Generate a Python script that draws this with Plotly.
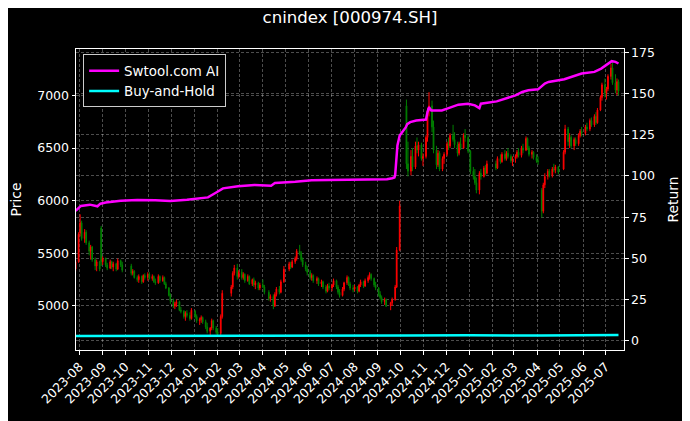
import pandas as pd
import plotly.graph_objects as go

# ---------------- data ----------------
holidays = ['2023-09-29', '2023-10-02', '2023-10-03', '2023-10-04', '2023-10-05', '2023-10-06',
            '2024-01-01', '2024-02-09', '2024-02-12', '2024-02-13', '2024-02-14', '2024-02-15',
            '2024-02-16', '2024-04-04', '2024-04-05', '2024-05-01', '2024-05-02', '2024-05-03',
            '2024-06-10', '2024-09-16', '2024-09-17', '2024-10-01', '2024-10-02', '2024-10-03',
            '2024-10-04', '2024-10-07', '2025-01-01', '2025-01-28', '2025-01-29', '2025-01-30',
            '2025-01-31', '2025-02-03', '2025-02-04', '2025-04-04', '2025-05-01', '2025-05-02',
            '2025-05-05', '2025-06-02']
first_day = '2023-07-27'
last_day = '2025-07-18'

opens = [5350, 5420, 5690, 5790, 5640, 5700, 5600, 5520, 5560, 5440, 5380, 5420, 5740,
         5420, 5450, 5390, 5360, 5420, 5370, 5400, 5350, 5430, 5390,
         5380, 5310, 5330, 5270, 5250, 5280, 5230, 5290, 5270,
         5300, 5260, 5280, 5230, 5220, 5280, 5240, 5270, 5210, 5170, 5100,
         5050, 5000, 5020, 5040, 4960, 4950, 4900, 4930, 4910, 4880,
         4950, 4900, 4860, 4870, 4890, 4850, 4800, 4760, 4790, 4860, 4790,
         4750, 4740, 4900, 5120, 5180, 5310, 5360, 5280,
         5320, 5270, 5300, 5240, 5280, 5210, 5250, 5200, 5220, 5170,
         5200, 5180, 5130, 5070, 5090, 5000, 5110, 5160, 5130, 5230,
         5350, 5400, 5370, 5420, 5450, 5520, 5500, 5440, 5390, 5350,
         5320, 5270, 5290, 5240, 5260, 5210, 5230, 5180, 5140, 5190,
         5170, 5200, 5240, 5180, 5130, 5100, 5160, 5220, 5270, 5210, 5170,
         5160, 5180, 5140, 5200, 5230, 5190, 5240, 5270, 5300, 5260, 5200,
         5170, 5110, 5080, 5040, 5060, 5000, 5030, 5060, 5180, 5530,
         6900, 6350, 6280, 6420, 6320, 6520, 6480, 6530, 6400,
         6420, 6600, 6850, 6900, 6700, 6480, 6340, 6450, 6300, 6400,
         6440, 6540, 6520, 6620, 6580, 6530, 6450, 6540, 6500, 6620, 6600,
         6470, 6280, 6230, 6170, 6100, 6260, 6230, 6310, 6260,
         6350, 6310, 6400, 6370, 6440, 6400, 6450, 6420, 6380,
         6400, 6420, 6460, 6430, 6500, 6480, 6590, 6500, 6440, 6460, 6410,
         6380, 6100, 5900, 6150, 6230, 6280, 6240, 6300, 6290, 6320,
         6300, 6460, 6680, 6560, 6600, 6520, 6580, 6540, 6620, 6660,
         6640, 6700, 6680, 6760, 6720, 6800, 6740, 6860, 6980, 7100,
         7020, 7060, 7180, 7260, 7120, 7050, 7130]
highs = [5440, 5700, 5870, 5810, 5730, 5720, 5620, 5580, 5570, 5460, 5440, 5430, 5760,
         5470, 5460, 5410, 5440, 5430, 5420, 5410, 5450, 5440, 5420,
         5400, 5350, 5340, 5290, 5300, 5290, 5300, 5310, 5320,
         5320, 5300, 5290, 5260, 5300, 5290, 5290, 5280, 5230, 5180, 5120,
         5070, 5040, 5060, 5050, 4990, 4960, 4950, 4960, 4940, 4980,
         4960, 4920, 4890, 4910, 4900, 4870, 4840, 4800, 4880, 4870, 4810,
         4790, 4920, 5150, 5200, 5330, 5390, 5400, 5340,
         5350, 5320, 5310, 5300, 5290, 5260, 5270, 5240, 5230, 5220,
         5250, 5200, 5150, 5110, 5110, 5130, 5180, 5190, 5250, 5380,
         5420, 5420, 5440, 5470, 5540, 5580, 5520, 5460, 5420, 5380,
         5340, 5310, 5300, 5280, 5270, 5250, 5240, 5200, 5210, 5220,
         5210, 5260, 5250, 5200, 5160, 5180, 5230, 5290, 5280, 5230, 5200,
         5200, 5190, 5210, 5250, 5240, 5260, 5290, 5320, 5310, 5270, 5230,
         5180, 5140, 5100, 5080, 5070, 5040, 5080, 5200, 5560, 6000,
         6960, 6560, 6480, 6500, 6560, 6600, 6560, 6550, 6450,
         6620, 6880, 7030, 6950, 6760, 6520, 6480, 6470, 6420, 6460,
         6560, 6600, 6640, 6720, 6650, 6560, 6560, 6600, 6640, 6680, 6620,
         6480, 6320, 6300, 6220, 6280, 6300, 6330, 6340, 6380,
         6380, 6420, 6440, 6460, 6480, 6470, 6500, 6440, 6420,
         6440, 6480, 6500, 6520, 6540, 6610, 6600, 6520, 6480, 6470, 6440,
         6420, 6120, 6170, 6260, 6300, 6300, 6320, 6350, 6340, 6330,
         6480, 6720, 6700, 6640, 6620, 6600, 6600, 6640, 6680, 6700,
         6720, 6740, 6780, 6790, 6820, 6840, 6880, 7000, 7120, 7160,
         7080, 7200, 7300, 7310, 7200, 7160, 7150]
lows = [5330, 5410, 5660, 5620, 5600, 5580, 5480, 5440, 5420, 5340, 5330, 5330, 5380,
        5390, 5370, 5340, 5350, 5350, 5330, 5330, 5340, 5370, 5320,
        5290, 5290, 5260, 5230, 5220, 5210, 5220, 5250, 5240,
        5250, 5240, 5220, 5200, 5210, 5220, 5230, 5200, 5160, 5090, 5020,
        4980, 4970, 4990, 4950, 4930, 4880, 4860, 4890, 4860, 4870,
        4880, 4840, 4820, 4840, 4830, 4780, 4740, 4715, 4770, 4770, 4730,
        4720, 4715, 4880, 5090, 5160, 5290, 5250, 5260,
        5250, 5250, 5220, 5230, 5200, 5190, 5180, 5160, 5150, 5150,
        5170, 5110, 5050, 5040, 4970, 4990, 5090, 5110, 5120, 5220,
        5330, 5350, 5360, 5400, 5430, 5480, 5420, 5370, 5330, 5290,
        5250, 5240, 5220, 5210, 5190, 5180, 5160, 5120, 5130, 5150,
        5140, 5180, 5160, 5110, 5080, 5090, 5140, 5200, 5190, 5150, 5130,
        5140, 5120, 5130, 5180, 5170, 5180, 5220, 5250, 5240, 5180, 5150,
        5090, 5060, 5020, 5010, 4990, 4960, 5000, 5050, 5170, 5520,
        6300, 6230, 6240, 6280, 6300, 6450, 6420, 6380, 6330,
        6400, 6560, 6800, 6650, 6450, 6300, 6320, 6280, 6280, 6350,
        6420, 6480, 6500, 6560, 6500, 6420, 6430, 6480, 6490, 6560, 6450,
        6250, 6200, 6150, 6070, 6060, 6200, 6220, 6240, 6250,
        6290, 6300, 6350, 6360, 6380, 6380, 6400, 6360, 6330,
        6360, 6400, 6410, 6410, 6450, 6470, 6480, 6420, 6400, 6390, 6360,
        6340, 5840, 5880, 6120, 6200, 6220, 6220, 6270, 6260, 6250,
        6290, 6440, 6520, 6500, 6500, 6480, 6520, 6520, 6600, 6610,
        6620, 6660, 6660, 6700, 6700, 6720, 6730, 6850, 6950, 6980,
        6960, 7040, 7150, 7100, 7020, 7000, 7000]
closes = [5420, 5680, 5790, 5640, 5700, 5600, 5520, 5560, 5440, 5380, 5420, 5350, 5420,
          5450, 5390, 5360, 5420, 5370, 5400, 5350, 5430, 5390, 5340,
          5310, 5330, 5270, 5250, 5280, 5230, 5290, 5270, 5300,
          5260, 5280, 5230, 5220, 5280, 5240, 5270, 5210, 5170, 5100, 5050,
          5000, 5020, 5040, 4960, 4950, 4900, 4930, 4910, 4880, 4960,
          4900, 4860, 4870, 4890, 4850, 4800, 4760, 4790, 4860, 4790, 4750,
          4740, 4900, 5120, 5180, 5310, 5360, 5280, 5320,
          5270, 5300, 5240, 5280, 5210, 5250, 5200, 5220, 5170, 5200,
          5180, 5130, 5070, 5090, 5000, 5110, 5160, 5130, 5230, 5350,
          5400, 5370, 5420, 5450, 5520, 5500, 5440, 5390, 5350, 5320,
          5270, 5290, 5240, 5260, 5210, 5230, 5180, 5140, 5190, 5170,
          5200, 5240, 5180, 5130, 5100, 5160, 5220, 5270, 5210, 5170, 5160,
          5180, 5140, 5200, 5230, 5190, 5240, 5270, 5300, 5260, 5200, 5170,
          5110, 5080, 5040, 5060, 5000, 5030, 5060, 5180, 5530, 5950,
          6350, 6280, 6420, 6320, 6520, 6480, 6530, 6400, 6420,
          6600, 6850, 6900, 6700, 6480, 6340, 6450, 6300, 6400, 6440,
          6540, 6520, 6620, 6580, 6530, 6450, 6540, 6500, 6620, 6600, 6470,
          6280, 6230, 6170, 6100, 6260, 6230, 6310, 6260, 6350,
          6310, 6400, 6370, 6440, 6400, 6450, 6420, 6380, 6400,
          6420, 6460, 6430, 6500, 6480, 6590, 6500, 6440, 6460, 6410, 6380,
          6370, 5900, 6150, 6230, 6280, 6240, 6300, 6290, 6320, 6270,
          6460, 6680, 6560, 6600, 6520, 6580, 6540, 6620, 6660, 6640,
          6700, 6680, 6760, 6720, 6800, 6740, 6860, 6980, 7100, 7020,
          7060, 7180, 7260, 7120, 7050, 7130, 7040]

strat_dates = ['2023-07-27', '2023-07-31', '2023-08-03', '2023-08-15', '2023-08-21', '2023-08-25',
               '2023-08-29', '2023-09-05', '2023-09-25', '2023-10-17', '2023-11-10', '2023-11-30',
               '2023-12-22', '2024-01-12', '2024-01-19', '2024-01-30', '2024-02-08', '2024-02-28',
               '2024-03-21', '2024-04-12', '2024-04-17', '2024-05-14', '2024-06-05', '2024-06-28',
               '2024-08-12', '2024-09-13', '2024-09-20', '2024-09-23', '2024-09-24', '2024-09-25',
               '2024-09-26', '2024-09-27', '2024-09-30', '2024-10-08', '2024-10-10', '2024-10-14',
               '2024-10-22', '2024-11-04', '2024-11-06', '2024-11-08', '2024-11-11', '2024-11-25',
               '2024-12-04', '2024-12-17', '2024-12-30', '2025-01-08', '2025-01-14', '2025-01-16',
               '2025-02-06', '2025-02-21', '2025-03-03', '2025-03-12', '2025-03-20', '2025-04-02',
               '2025-04-11', '2025-04-16', '2025-05-07', '2025-05-30', '2025-06-16', '2025-06-25',
               '2025-07-04', '2025-07-09', '2025-07-14', '2025-07-18']
strat_vals = [78.8, 80.8, 81.8, 82.6, 82.0, 81.6, 83.2, 83.9, 84.9, 85.4, 85.2, 84.8,
              85.6, 86.4, 87.0, 90.0, 92.5, 93.7, 94.5, 94.1, 95.7, 96.5, 97.4, 97.6,
              97.8, 98.0, 98.6, 99.1, 100.6, 106.0, 112.4, 118.5, 124.6, 129.5, 131.5, 132.7,
              133.7, 134.3, 138.8, 141.8, 139.8, 139.8, 141.2, 143.3, 143.9, 142.9, 141.2, 143.9,
              145.3, 147.3, 148.9, 151.0, 152.0, 152.6, 156.1, 157.1, 158.7, 162.2, 163.2, 165.2,
              168.3, 169.7, 169.3, 168.3]

bh_dates = ['2023-07-27', '2024-09-24', '2024-10-08', '2024-12-31', '2025-04-07', '2025-07-18']
bh_vals = [2.9, 2.8, 3.2, 3.3, 3.1, 3.5]

price_ticks = [5000, 5500, 6000, 6500, 7000]
return_ticks = [0, 25, 50, 75, 100, 125, 150, 175]

# ---------------- build ----------------
tdays = pd.bdate_range(first_day, last_day)
tdays = tdays[~tdays.isin(pd.to_datetime(holidays))]
candle_dates = tdays[::2]
n = min(len(candle_dates), len(opens))

fig = go.Figure()
fig.add_trace(go.Candlestick(
    x=candle_dates[:n], open=opens[:n], high=highs[:n], low=lows[:n], close=closes[:n],
    increasing=dict(line=dict(color='#ff0000', width=1), fillcolor='#ff0000'),
    decreasing=dict(line=dict(color='#008000', width=1), fillcolor='#008000'),
    whiskerwidth=0, showlegend=False, name='Price'))
fig.add_trace(go.Scatter(x=strat_dates, y=strat_vals, mode='lines', name='Swtool.com AI',
                         line=dict(color='#ff00ff', width=2.5), yaxis='y2'))
fig.add_trace(go.Scatter(x=bh_dates, y=bh_vals, mode='lines', name='Buy-and-Hold',
                         line=dict(color='#00ffff', width=2.5), yaxis='y2'))

grid = dict(showgrid=True, gridcolor='rgba(255,255,255,0.3)', gridwidth=0.6, griddash='3px,2px')
axis_common = dict(ticks='outside', ticklen=3.5, tickcolor='white', tickwidth=1,
                   tickfont=dict(size=12.5, color='white'), zeroline=False, automargin=False)

# page body has an 8px offset, margins compensate for it
fig.update_layout(
    width=690, height=421,
    paper_bgcolor='black', plot_bgcolor='black',
    margin=dict(l=68, r=74, t=41, b=79, autoexpand=False),
    font=dict(family='DejaVu Sans', color='white', size=12.5),
    title=dict(text='cnindex [000974.SH]', x=0.5, xref='paper', xanchor='center',
               y=1 - 9 / 421, yanchor='middle', font=dict(size=16.6, color='white')),
    xaxis=dict(type='date', range=['2023-07-27 12:00', '2025-07-25 08:00'],
               rangeslider=dict(visible=False), dtick='M1', tick0='2023-08-01',
               tickformat='%Y-%m', tickangle=-45, showline=True, linecolor='white',
               linewidth=1, mirror=True, **grid, **axis_common),
    yaxis=dict(range=[4582, 7440], tickvals=price_ticks, showline=True, linecolor='white',
               linewidth=1, mirror=True,
               title=dict(text='Price', font=dict(size=13.9, color='white'), standoff=12),
               **grid, **axis_common),
    yaxis2=dict(overlaying='y', side='right', range=[-5.65, 177.1], tickvals=return_ticks,
                showline=True, linecolor='white', linewidth=1,
                title=dict(text='Return', font=dict(size=13.9, color='white'), standoff=14),
                **grid, **axis_common),
    legend=dict(x=0.013, y=0.982, xanchor='left', yanchor='top', bgcolor='black',
                bordercolor='#cccccc', borderwidth=1, font=dict(size=13.4, color='white'),
                tracegroupgap=0),
    showlegend=True,
)

fig.write_html('out.html')
